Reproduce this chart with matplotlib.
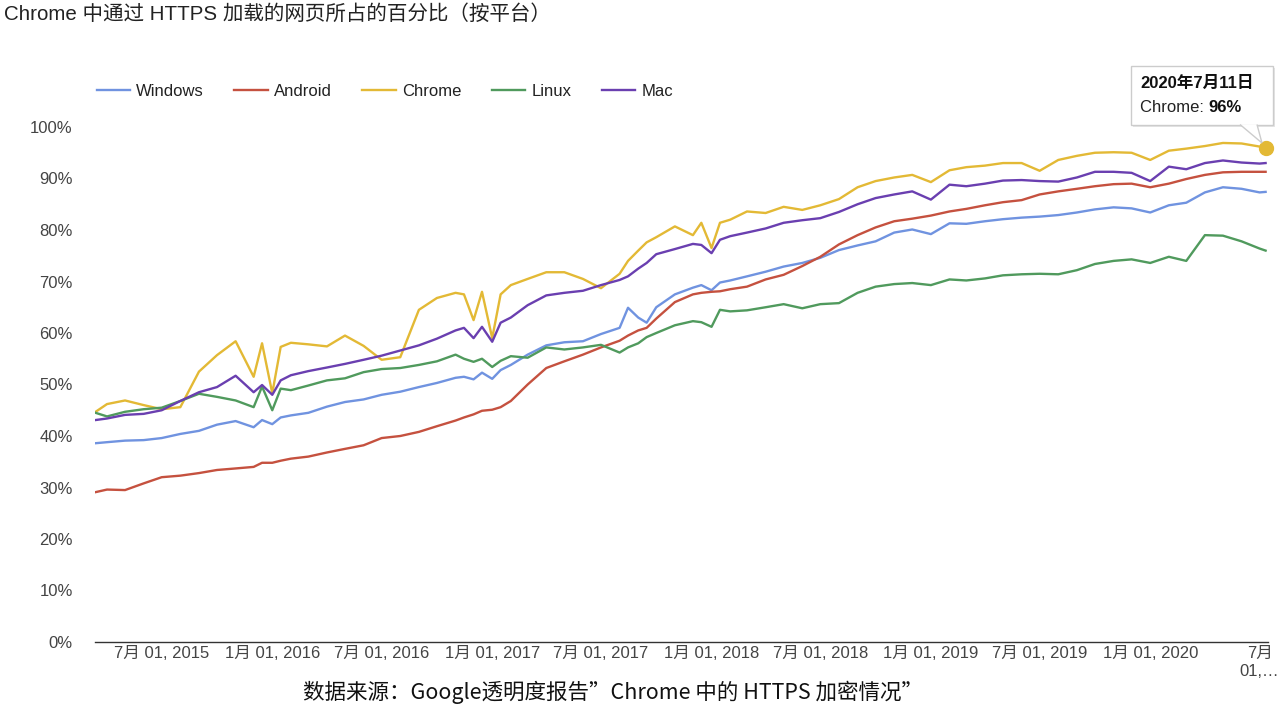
import matplotlib
matplotlib.use('Agg')
from matplotlib import pyplot as plt
from matplotlib.patches import Rectangle, Polygon
import numpy as np
import pandas as pd

plt.rcParams['font.family'] = ['Liberation Sans', 'Noto Sans CJK SC']

# weekly report read off roughly once a month (plus the dips)
dates = [
    '2015-03-13', '2015-04-01', '2015-05-01', '2015-06-01', '2015-07-01',
    '2015-08-01', '2015-09-01', '2015-10-01', '2015-11-01', '2015-12-01',
    '2015-12-15', '2016-01-01', '2016-01-15', '2016-02-01', '2016-03-01',
    '2016-04-01', '2016-05-01', '2016-06-01', '2016-07-01', '2016-08-01',
    '2016-09-01', '2016-10-01', '2016-11-01', '2016-11-15', '2016-12-01',
    '2016-12-15', '2017-01-01', '2017-01-15', '2017-02-01', '2017-03-01',
    '2017-04-01', '2017-05-01', '2017-06-01', '2017-07-01', '2017-08-01',
    '2017-08-15', '2017-09-01', '2017-09-15', '2017-10-01', '2017-11-01',
    '2017-12-01', '2017-12-15', '2018-01-01', '2018-01-15', '2018-02-01',
    '2018-03-01', '2018-04-01', '2018-05-01', '2018-06-01', '2018-07-01',
    '2018-08-01', '2018-09-01', '2018-10-01', '2018-11-01', '2018-12-01',
    '2019-01-01', '2019-02-01', '2019-03-01', '2019-04-01', '2019-05-01',
    '2019-06-01', '2019-07-01', '2019-08-01', '2019-09-01', '2019-10-01',
    '2019-11-01', '2019-12-01', '2020-01-01', '2020-02-01', '2020-03-01',
    '2020-04-01', '2020-05-01', '2020-06-01', '2020-07-01', '2020-07-11',
]

windows = [
    38.6, 38.8, 39.1, 39.2, 39.6, 40.4, 41.0, 42.2, 42.9, 41.7,
    43.1, 42.3, 43.6, 44.0, 44.5, 45.7, 46.6, 47.1, 48.0, 48.6,
    49.5, 50.3, 51.3, 51.5, 51.0, 52.3, 51.1, 52.8, 53.8, 55.8,
    57.6, 58.2, 58.4, 59.8, 61.0, 64.9, 63.0, 62.0, 65.0, 67.5,
    68.8, 69.3, 68.3, 69.8, 70.2, 71.0, 71.9, 72.9, 73.6, 74.6,
    76.1, 77.0, 77.8, 79.5, 80.1, 79.2, 81.3, 81.2, 81.7, 82.1,
    82.4, 82.6, 82.9, 83.4, 84.0, 84.4, 84.2, 83.4, 84.8, 85.3,
    87.3, 88.3, 88.0, 87.3, 87.4,
]
android = [
    29.1, 29.6, 29.5, 30.8, 32.0, 32.3, 32.8, 33.4, 33.7, 34.0,
    34.8, 34.8, 35.2, 35.6, 36.0, 36.8, 37.5, 38.2, 39.6, 40.0,
    40.8, 41.9, 43.0, 43.6, 44.2, 44.9, 45.1, 45.6, 46.8, 50.0,
    53.2, 54.5, 55.8, 57.2, 58.5, 59.5, 60.5, 61.0, 62.8, 66.0,
    67.5, 67.8, 68.0, 68.1, 68.5, 69.0, 70.4, 71.3, 73.0, 74.8,
    77.2, 79.0, 80.5, 81.7, 82.2, 82.8, 83.6, 84.1, 84.8, 85.4,
    85.8, 86.9, 87.5, 88.0, 88.5, 88.9, 89.0, 88.3, 89.0, 89.9,
    90.7, 91.2, 91.3, 91.3, 91.3,
]
chrome = [
    44.7, 46.2, 46.9, 46.0, 45.2, 45.6, 52.5, 55.7, 58.4, 51.5,
    58.0, 48.3, 57.3, 58.1, 57.8, 57.4, 59.5, 57.5, 54.8, 55.3,
    64.5, 66.8, 67.8, 67.5, 62.5, 68.0, 59.0, 67.5, 69.3, 70.5,
    71.8, 71.8, 70.5, 68.7, 71.5, 74.0, 76.0, 77.6, 78.6, 80.7,
    79.0, 81.4, 76.5, 81.4, 82.0, 83.6, 83.3, 84.5, 83.9, 84.8,
    86.0, 88.3, 89.5, 90.2, 90.7, 89.3, 91.6, 92.2, 92.5, 93.0,
    93.0, 91.5, 93.6, 94.4, 95.0, 95.1, 95.0, 93.6, 95.4, 95.8,
    96.3, 96.9, 96.8, 96.2, 96.0,
]
linux = [
    44.5, 43.8, 44.7, 45.2, 45.5, 46.8, 48.2, 47.6, 46.9, 45.6,
    49.6, 45.0, 49.2, 48.9, 49.8, 50.8, 51.2, 52.4, 53.0, 53.2,
    53.8, 54.5, 55.8, 55.0, 54.4, 55.0, 53.4, 54.6, 55.5, 55.2,
    57.2, 56.8, 57.2, 57.7, 56.2, 57.2, 58.0, 59.2, 60.0, 61.5,
    62.3, 62.1, 61.2, 64.5, 64.2, 64.4, 65.0, 65.6, 64.8, 65.6,
    65.8, 67.8, 69.0, 69.5, 69.7, 69.3, 70.4, 70.2, 70.6, 71.2,
    71.4, 71.5, 71.4, 72.2, 73.4, 74.0, 74.3, 73.6, 74.8, 74.0,
    79.0, 78.9, 77.8, 76.4, 76.0,
]
mac = [
    43.1, 43.4, 44.1, 44.3, 45.0, 46.8, 48.5, 49.5, 51.7, 48.5,
    49.9, 48.0, 50.8, 51.8, 52.6, 53.3, 54.0, 54.8, 55.6, 56.6,
    57.6, 58.9, 60.5, 61.0, 59.0, 61.2, 58.3, 62.0, 63.0, 65.4,
    67.3, 67.8, 68.2, 69.3, 70.3, 71.0, 72.5, 73.6, 75.3, 76.3,
    77.3, 77.1, 75.5, 78.1, 78.8, 79.5, 80.3, 81.4, 81.9, 82.3,
    83.5, 85.0, 86.2, 86.9, 87.5, 85.9, 88.8, 88.5, 89.0, 89.6,
    89.7, 89.5, 89.4, 90.2, 91.3, 91.3, 91.1, 89.5, 92.3, 91.8,
    93.0, 93.5, 93.1, 92.9, 93.0,
]

series_names = ['Windows', 'Android', 'Chrome', 'Linux', 'Mac']
series_vals = [windows, android, chrome, linux, mac]
colors = ['#7093e0', '#c5513f', '#e3b935', '#509a5d', '#6a3fb0']

tick_dates = ['2015-07-01', '2016-01-01', '2016-07-01', '2017-01-01',
              '2017-07-01', '2018-01-01', '2018-07-01', '2019-01-01',
              '2019-07-01', '2020-01-01', '2020-07-01']
tick_labels = ['7月 01, 2015', '1月 01, 2016', '7月 01, 2016', '1月 01, 2017',
               '7月 01, 2017', '1月 01, 2018', '7月 01, 2018', '1月 01, 2019',
               '7月 01, 2019', '1月 01, 2020', '7月\n01,…']

x = pd.to_datetime(dates)

W, H = 1280, 710
fig = plt.figure(figsize=(W / 100, H / 100), dpi=100)
ax = fig.add_axes([95 / W, (H - 642) / H, (1268 - 95) / W, (642 - 127) / H])

for name, vals, c in zip(series_names, series_vals, colors):
    ax.plot(x, vals, color=c, lw=1.7, label=name, solid_joinstyle='round')

# highlighted point
ax.plot(x[-1], chrome[-1], 'o', color='#e3b935', ms=10, zorder=5, clip_on=False)

ax.set_ylim(0, 100)
ax.set_xlim(pd.Timestamp('2015-03-12'), pd.Timestamp('2020-07-15'))
ax.set_yticks(np.arange(0, 101, 10))
ax.set_yticklabels([f'{v}%' for v in range(0, 101, 10)])
ax.set_xticks(pd.to_datetime(tick_dates))
ax.set_xticklabels(tick_labels)
ax.tick_params(axis='both', length=0, colors='#444444', labelsize=12)
ax.tick_params(axis='y', pad=16)
ax.tick_params(axis='x', pad=3)
for s in ['top', 'right', 'left']:
    ax.spines[s].set_visible(False)
ax.spines['bottom'].set_color('#333333')
ax.spines['bottom'].set_linewidth(1.0)

leg = ax.legend(loc='center left', bbox_to_anchor=(90 / W, 1 - 91 / H),
                bbox_transform=fig.transFigure, ncol=5, frameon=False,
                fontsize=12, handlelength=2.0, handletextpad=0.38,
                columnspacing=1.82, borderaxespad=0)
for t in leg.get_texts():
    t.set_color('#222222')

fig.text(4 / W, 1 - 14 / H, 'Chrome 中通过 HTTPS 加载的网页所占的百分比（按平台）',
         fontsize=14.8, color='#222222', va='center', ha='left')

fig.text(613 / W, 1 - 692 / H, '数据来源：Google透明度报告”Chrome 中的 HTTPS 加密情况”',
         fontsize=15.5, color='#111111', va='center', ha='center',
         family=['Noto Sans CJK SC', 'DejaVu Sans'])

# tooltip
px = lambda a, b: (a / W, 1 - b / H)
shadow = Rectangle(px(1133, 127), 142 / W, 59 / H, transform=fig.transFigure,
                   facecolor='#e6e6e6', edgecolor='none', zorder=9)
box = Rectangle(px(1131, 125), 142 / W, 59 / H, transform=fig.transFigure,
                facecolor='white', edgecolor='#cccccc', lw=1, zorder=10)
fig.patches.extend([shadow, box])
tail = Polygon([px(1240, 124.5), px(1262, 143), px(1257, 124.5)], closed=False,
               transform=fig.transFigure, facecolor='white', edgecolor='#cccccc',
               lw=1, zorder=11)
fig.patches.append(tail)
fig.text(*px(1140, 83), '2020年7月11日', fontsize=12, fontweight='bold',
         color='#111111', va='center', ha='left', zorder=12)
t1 = fig.text(*px(1140, 107), 'Chrome: ', fontsize=12, color='#222222',
              va='center', ha='left', zorder=12)
fig.canvas.draw()
bb = t1.get_window_extent()
fig.text(bb.x1 / W, 1 - 107 / H, '96%', fontsize=12, fontweight='bold',
         color='#111111', va='center', ha='left', zorder=12)

fig.savefig('out.png', dpi=100, facecolor='white')
